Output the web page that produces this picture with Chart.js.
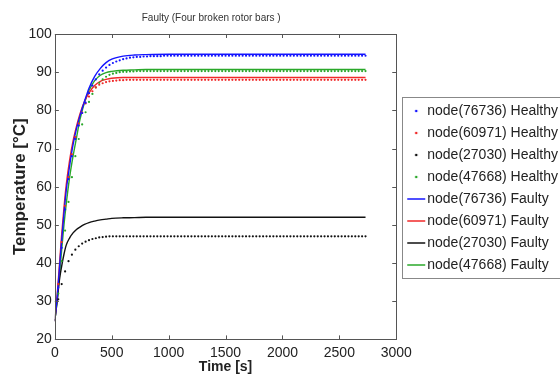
<!DOCTYPE html>
<html>
<head>
<meta charset="utf-8">
<script src="https://cdn.jsdelivr.net/npm/chart.js@4.4.1/dist/chart.umd.min.js"></script>
<style>
  html, body { margin: 0; padding: 0; background: #fff; }
  #wrap { width: 560px; height: 376px; overflow: hidden; position: relative; }
  canvas { display: block; }
</style>
</head>
<body>
<div id="wrap"><canvas id="chart" width="568" height="376"></canvas></div>
<script>
// Healthy runs: sampled every 30 s
const tDots = [
  0, 30, 60, 90, 120, 150, 180, 210, 240, 270, 300, 330,
  360, 390, 420, 450, 480, 510, 540, 570, 600, 630, 660, 690,
  720, 750, 780, 810, 840, 870, 900, 930, 960, 990, 1020, 1050,
  1080, 1110, 1140, 1170, 1200, 1230, 1260, 1290, 1320, 1350, 1380, 1410,
  1440, 1470, 1500, 1530, 1560, 1590, 1620, 1650, 1680, 1710, 1740, 1770,
  1800, 1830, 1860, 1890, 1920, 1950, 1980, 2010, 2040, 2070, 2100, 2130,
  2160, 2190, 2220, 2250, 2280, 2310, 2340, 2370, 2400, 2430, 2460, 2490,
  2520, 2550, 2580, 2610, 2640, 2670, 2700, 2730
];

const blueHealthy = [
  25, 33.5, 44, 54, 62, 68, 72.5, 76, 79.3, 82, 84.5, 86.5,
  88.1, 89.4, 90.4, 91.2, 91.9, 92.4, 92.8, 93.1, 93.4, 93.6, 93.8, 93.9,
  94.0, 94.0, 94.1, 94.1, 94.2, 94.2, 94.2, 94.2, 94.3, 94.3, 94.3, 94.3,
  94.3, 94.3, 94.3, 94.3, 94.3, 94.3, 94.3, 94.3, 94.3, 94.3, 94.3, 94.3,
  94.3, 94.3, 94.3, 94.3, 94.3, 94.3, 94.3, 94.3, 94.3, 94.3, 94.3, 94.3,
  94.3, 94.3, 94.3, 94.3, 94.3, 94.3, 94.3, 94.3, 94.3, 94.3, 94.3, 94.3,
  94.3, 94.3, 94.3, 94.3, 94.3, 94.3, 94.3, 94.3, 94.3, 94.3, 94.3, 94.3,
  94.3, 94.3, 94.3, 94.3, 94.3, 94.3, 94.3, 94.3
];

const redHealthy = [
  25, 34.5, 45.5, 55, 62.5, 68.5, 73, 76.5, 79.4, 81.8, 83.6, 85,
  86.0, 86.7, 87.1, 87.4, 87.6, 87.7, 87.8, 87.9, 87.9, 88.0, 88.0, 88.0,
  88.0, 88.0, 88.0, 88.0, 88.0, 88.0, 88.0, 88.0, 88.0, 88.0, 88.0, 88.0,
  88.0, 88.0, 88.0, 88.0, 88.0, 88.0, 88.0, 88.0, 88.0, 88.0, 88.0, 88.0,
  88.0, 88.0, 88.0, 88.0, 88.0, 88.0, 88.0, 88.0, 88.0, 88.0, 88.0, 88.0,
  88.0, 88.0, 88.0, 88.0, 88.0, 88.0, 88.0, 88.0, 88.0, 88.0, 88.0, 88.0,
  88.0, 88.0, 88.0, 88.0, 88.0, 88.0, 88.0, 88.0, 88.0, 88.0, 88.0, 88.0,
  88.0, 88.0, 88.0, 88.0, 88.0, 88.0, 88.0, 88.0
];

const blackHealthy = [
  25, 30.5, 34.5, 37.8, 40.5, 42.2, 43.5, 44.4, 45.1, 45.6, 46.0, 46.3,
  46.5, 46.7, 46.8, 46.9, 47.0, 47.0, 47.0, 47.0, 47.0, 47.0, 47.0, 47.0,
  47.0, 47.0, 47.0, 47.0, 47.0, 47.0, 47.0, 47.0, 47.0, 47.0, 47.0, 47.0,
  47.0, 47.0, 47.0, 47.0, 47.0, 47.0, 47.0, 47.0, 47.0, 47.0, 47.0, 47.0,
  47.0, 47.0, 47.0, 47.0, 47.0, 47.0, 47.0, 47.0, 47.0, 47.0, 47.0, 47.0,
  47.0, 47.0, 47.0, 47.0, 47.0, 47.0, 47.0, 47.0, 47.0, 47.0, 47.0, 47.0,
  47.0, 47.0, 47.0, 47.0, 47.0, 47.0, 47.0, 47.0, 47.0, 47.0, 47.0, 47.0,
  47.0, 47.0, 47.0, 47.0, 47.0, 47.0, 47.0, 47.0
];

const greenHealthy = [
  25, 32, 40.5, 48.5, 56, 62.5, 68, 72.5, 76.3, 79.5, 82.2, 84.3,
  86.0, 87.2, 88.1, 88.8, 89.3, 89.6, 89.8, 90.0, 90.1, 90.1, 90.2, 90.2,
  90.3, 90.3, 90.3, 90.3, 90.3, 90.3, 90.3, 90.3, 90.3, 90.3, 90.3, 90.3,
  90.3, 90.3, 90.3, 90.3, 90.3, 90.3, 90.3, 90.3, 90.3, 90.3, 90.3, 90.3,
  90.3, 90.3, 90.3, 90.3, 90.3, 90.3, 90.3, 90.3, 90.3, 90.3, 90.3, 90.3,
  90.3, 90.3, 90.3, 90.3, 90.3, 90.3, 90.3, 90.3, 90.3, 90.3, 90.3, 90.3,
  90.3, 90.3, 90.3, 90.3, 90.3, 90.3, 90.3, 90.3, 90.3, 90.3, 90.3, 90.3,
  90.3, 90.3, 90.3, 90.3, 90.3, 90.3, 90.3, 90.3
];

// Faulty runs: solid lines
const tLine       = [0, 20, 40, 60, 80, 100, 130, 160, 190, 220, 260, 300, 350, 400, 450, 500, 600, 700, 800, 1000, 1500, 2000, 2730];
const blueFaulty  = [25, 31.0, 38.5, 46.0, 53.0, 59.0, 65.5, 71.0, 75.2, 78.5, 82.3, 85.8, 88.9, 91.0, 92.5, 93.4, 94.2, 94.5, 94.6, 94.7, 94.7, 94.7, 94.7];
const redFaulty   = [25, 31.5, 39.5, 47.5, 54.5, 60.5, 67.0, 72.0, 75.8, 79.0, 82.3, 84.6, 86.5, 87.6, 88.1, 88.4, 88.6, 88.6, 88.6, 88.6, 88.6, 88.6, 88.6];
const blackFaulty = [25, 30.0, 35.5, 39.2, 42.3, 44.7, 46.6, 47.9, 48.8, 49.4, 50.1, 50.6, 51.0, 51.3, 51.5, 51.7, 51.85, 51.9, 52.0, 52.0, 52.0, 52.0, 52.0];
const greenFaulty = [25, 30.0, 36.5, 43.5, 50.0, 55.5, 62.5, 68.0, 72.8, 77.5, 82.0, 85.2, 87.8, 89.2, 89.9, 90.2, 90.5, 90.6, 90.7, 90.7, 90.7, 90.7, 90.7];

const nodes   = ['76736', '60971', '27030', '47668'];
const colors  = ['#1414ff', '#f02828', '#111111', '#2aa82a'];
const healthy = [blueHealthy, redHealthy, blackHealthy, greenHealthy];
const faulty  = [blueFaulty, redFaulty, blackFaulty, greenFaulty];

const xTicks = [0, 500, 1000, 1500, 2000, 2500, 3000];
const yTicks = [20, 30, 40, 50, 60, 70, 80, 90, 100];

const TITLE = 'Faulty (Four broken rotor bars )';
const FONT = '"Liberation Sans", Arial, sans-serif';
const AXIS = '#555';

// legend marker images; wider than the box so the mark can sit off-centre
function dotIcon(color) {
  const c = document.createElement('canvas');
  c.width = 40; c.height = 6;
  const g = c.getContext('2d');
  g.fillStyle = color;
  g.beginPath(); g.arc(24, 3, 1.3, 0, Math.PI * 2); g.fill();
  return c;
}
function lineIcon(color) {
  const c = document.createElement('canvas');
  c.width = 40; c.height = 6;
  const g = c.getContext('2d');
  g.strokeStyle = color; g.lineWidth = 1.5;
  g.beginPath(); g.moveTo(15, 3); g.lineTo(33, 3); g.stroke();
  return c;
}

const datasets = [];
nodes.forEach((n, i) => {
  datasets.push({
    label: `node(${n}) Healthy`,
    data: tDots.map((t, k) => ({ x: t, y: healthy[i][k] })),
    showLine: false,
    pointRadius: 1.1,
    pointBackgroundColor: colors[i],
    pointBorderWidth: 0,
    borderColor: colors[i],
    backgroundColor: colors[i],
    icon: dotIcon(colors[i]),
  });
});
nodes.forEach((n, i) => {
  datasets.push({
    label: `node(${n}) Faulty`,
    data: tLine.map((t, k) => ({ x: t, y: faulty[i][k] })),
    borderColor: colors[i],
    backgroundColor: colors[i],
    borderWidth: 1.4,
    pointRadius: 0,
    cubicInterpolationMode: 'monotone',
    icon: lineIcon(colors[i]),
  });
});

// Matlab-style box, inward ticks, title, legend frame
const frame = {
  id: 'frame',
  afterDraw(chart) {
    const { ctx, chartArea: a, scales: { x, y } } = chart;
    ctx.save();
    ctx.strokeStyle = AXIS;
    ctx.lineWidth = 1;
    ctx.strokeRect(Math.round(a.left) + 0.5, Math.round(a.top) + 0.5,
      Math.round(a.right - a.left), Math.round(a.bottom - a.top));
    ctx.beginPath();
    xTicks.forEach(v => {
      const px = Math.round(x.getPixelForValue(v)) + 0.5;
      ctx.moveTo(px, a.bottom); ctx.lineTo(px, a.bottom - 4);
      ctx.moveTo(px, a.top); ctx.lineTo(px, a.top + 4);
    });
    yTicks.forEach(v => {
      const py = Math.round(y.getPixelForValue(v)) + 0.5;
      ctx.moveTo(a.left, py); ctx.lineTo(a.left + 4, py);
      ctx.moveTo(a.right, py); ctx.lineTo(a.right - 4, py);
    });
    ctx.stroke();

    // title, a little left of the plot centre as in the source figure
    ctx.fillStyle = '#333';
    ctx.font = `10px ${FONT}`;
    ctx.textAlign = 'center';
    ctx.textBaseline = 'middle';
    ctx.fillText(TITLE, a.left + (a.right - a.left) * 0.458, 18);

    const lg = chart.legend;
    const hb = lg.legendHitBoxes;
    if (hb && hb.length) {
      const last = hb[hb.length - 1];
      const top = hb[0].top - 7;
      const bottom = last.top + last.height + 6;
      ctx.strokeStyle = '#888';
      ctx.strokeRect(Math.round(a.right) + 6.5, Math.round(top) + 0.5, 220, Math.round(bottom - top));
    }
    ctx.restore();
  }
};

new Chart(document.getElementById('chart'), {
  type: 'line',
  data: { datasets },
  plugins: [frame],
  options: {
    responsive: false,
    animation: false,
    events: [],
    layout: { padding: { left: 10, right: 0, top: 0, bottom: 0 } },
    plugins: {
      title: { display: false },
      tooltip: { enabled: false },
      legend: {
        position: 'right',
        align: 'center',
        maxWidth: 240,
        labels: {
          color: '#222',
          font: { family: FONT, size: 14 },
          usePointStyle: true,
          pointStyleWidth: 16,
          boxHeight: 14,
          padding: 8,
          generateLabels(chart) {
            return chart.data.datasets.map((d, i) => ({
              text: d.label,
              pointStyle: d.icon,
              fillStyle: d.borderColor,
              strokeStyle: d.borderColor,
              lineWidth: 0,
              fontColor: '#222',
              hidden: false,
              datasetIndex: i,
            }));
          },
        },
      },
    },
    scales: {
      x: {
        type: 'linear',
        min: 0, max: 3000,
        grid: { display: false, drawTicks: false },
        border: { display: false },
        ticks: {
          stepSize: 500,
          color: '#222',
          padding: 5,
          maxRotation: 0,
          font: { family: FONT, size: 14 },
          callback: v => String(v),
        },
        title: {
          display: true,
          text: 'Time [s]',
          color: '#222',
          padding: { top: -7, bottom: 0 },
          font: { family: FONT, size: 14, weight: 'bold' },
        },
      },
      y: {
        min: 20, max: 100,
        grid: { display: false, drawTicks: false },
        border: { display: false },
        // leave room above the plot for the title without moving the legend
        afterFit(scale) { scale.paddingTop = 34; },
        ticks: {
          stepSize: 10,
          color: '#222',
          padding: 3,
          font: { family: FONT, size: 14 },
          callback: v => String(v),
        },
        title: {
          display: true,
          text: 'Temperature [°C]',
          color: '#222',
          padding: { top: 1.5, bottom: -3 },
          font: { family: FONT, size: 17, weight: 'bold', lineHeight: 1 },
        },
      },
    },
  },
});
</script>
</body>
</html>
